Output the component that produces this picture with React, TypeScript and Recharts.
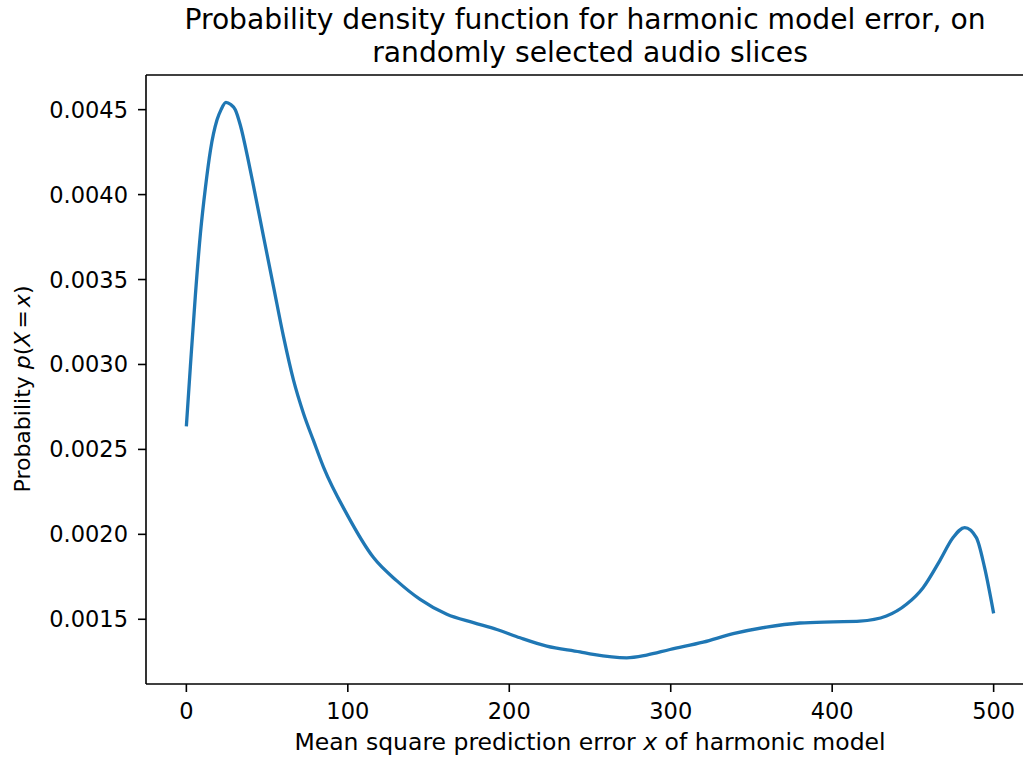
import { LineChart, Line, XAxis, YAxis, ReferenceLine } from 'recharts';

// mean square prediction error x
const errors = [
  0, 2.5, 5.6, 8.7, 11.8, 14.9, 19, 21.5, 24.5, 27.5, 30.3, 33.4, 38.6, 41.6, 47.8,
  54, 60.2, 66.4, 72.6, 78.8, 85, 99.4, 115.9, 130.4, 144.8, 161.3, 177.8, 192.3,
  206.7, 223.2, 243.8, 252, 272.7, 285.1, 299.5, 320.1, 338.7, 359.3, 380, 400.6,
  417.1, 433.6, 446, 456.3, 466.6, 474.9, 482.1, 489.3, 494.4, 500,
];

// p(X = x)
const density = [
  0.002636, 0.00299, 0.00341, 0.00377, 0.00404, 0.00426, 0.00444, 0.0045, 0.004543,
  0.00453, 0.0045, 0.00441, 0.00419, 0.00405, 0.003752, 0.003457, 0.003162,
  0.002906, 0.00271, 0.00255, 0.002394, 0.002119, 0.001863, 0.001726, 0.001617,
  0.001529, 0.00148, 0.00144, 0.001391, 0.001342, 0.001308, 0.001293, 0.001273,
  0.001289, 0.001322, 0.001365, 0.001415, 0.001454, 0.001478, 0.001485, 0.001489,
  0.001519, 0.001588, 0.001686, 0.001844, 0.001981, 0.00204, 0.001981, 0.001804,
  0.001535,
];

const xTicks = [0, 100, 200, 300, 400, 500];
const yTicks = [0.0015, 0.002, 0.0025, 0.003, 0.0035, 0.004, 0.0045];

const X_DOMAIN: [number, number] = [-25, 525];
const Y_DOMAIN: [number, number] = [0.001119, 0.004704];

const data = errors.map((x, i) => ({ x, p: density[i] }));

const FONT = 'DejaVu Sans, sans-serif';

export default function App() {
  return (
    <div
      style={{
        position: 'absolute',
        left: 0,
        top: 0,
        width: 1023,
        height: 757,
        overflow: 'hidden',
        background: '#fff',
        fontFamily: FONT,
      }}
    >
      <svg width={1023} height={757} style={{ position: 'absolute', left: 0, top: 0 }}>
        <text x={585} y={29} textAnchor="middle" fontSize={28.2} fontFamily={FONT} fill="#000">
          Probability density function for harmonic model error, on
        </text>
        <text x={590} y={62} textAnchor="middle" fontSize={28.2} fontFamily={FONT} fill="#000">
          randomly selected audio slices
        </text>
        <text x={590} y={750} textAnchor="middle" fontSize={23.5} fontFamily={FONT} fill="#000">
          Mean square prediction error <tspan fontStyle="italic">x</tspan> of harmonic model
        </text>
        <text
          transform="translate(30,389) rotate(-90)"
          textAnchor="middle"
          fontSize={22}
          fontFamily={FONT}
          fill="#000"
        >
          Probability <tspan fontStyle="italic">p</tspan>(<tspan fontStyle="italic">X</tspan>
          <tspan dx={3}>=</tspan>
          <tspan dx={3} fontStyle="italic">x</tspan>)
        </text>
      </svg>
      <div style={{ position: 'absolute', left: 0, top: 0 }}>
        <LineChart
          width={1035}
          height={757}
          data={data}
          margin={{ top: 75, right: 1, bottom: 0, left: 0 }}
        >
          <XAxis
            dataKey="x"
            type="number"
            domain={X_DOMAIN}
            ticks={xTicks}
            height={73}
            stroke="#000"
            strokeWidth={1.6}
            tickSize={8}
            tickMargin={11}
            tick={{ fill: '#000', fontSize: 22.5, fontFamily: FONT }}
            allowDataOverflow
          />
          <YAxis
            dataKey="p"
            type="number"
            domain={Y_DOMAIN}
            ticks={yTicks}
            width={146}
            stroke="#000"
            strokeWidth={1.6}
            tickSize={8}
            tickMargin={10}
            tickFormatter={(v: number) => v.toFixed(4)}
            tick={{ fill: '#000', fontSize: 22.5, fontFamily: FONT }}
            allowDataOverflow
          />
          <ReferenceLine y={Y_DOMAIN[1]} stroke="#000" strokeWidth={1.6} />
          <Line
            type="monotone"
            dataKey="p"
            stroke="#1f77b4"
            strokeWidth={3.3}
            dot={false}
            isAnimationActive={false}
          />
        </LineChart>
      </div>
    </div>
  );
}
